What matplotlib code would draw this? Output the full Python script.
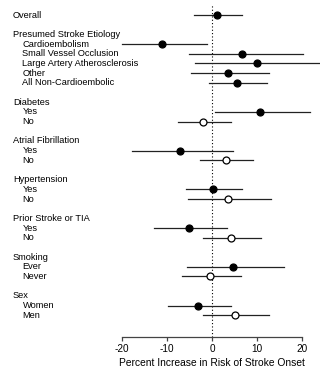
import matplotlib
matplotlib.use("Agg")
import matplotlib.pyplot as plt
import matplotlib.transforms as mtransforms

plt.rcParams['font.family'] = ['Liberation Sans', 'DejaVu Sans']
plt.rcParams['axes.unicode_minus'] = False

# groups: header, item labels, estimates, lower CI, upper CI, filled markers
groups = ["Presumed Stroke Etiology", "Diabetes", "Atrial Fibrillation",
          "Hypertension", "Prior Stroke or TIA", "Smoking", "Sex"]
items = [
    ["Cardioembolism", "Small Vessel Occlusion", "Large Artery Atherosclerosis",
     "Other", "All Non-Cardioembolic"],
    ["Yes", "No"],
    ["Yes", "No"],
    ["Yes", "No"],
    ["Yes", "No"],
    ["Ever", "Never"],
    ["Women", "Men"],
]
est = [[-11.0, 6.7, 10.0, 3.6, 5.5],
       [10.7, -1.9], [-7.1, 3.2], [0.2, 3.5], [-5.1, 4.2], [4.7, -0.4], [-3.0, 5.0]]
lo = [[-20.0, -5.1, -3.8, -4.6, -0.7],
      [0.7, -7.5], [-17.7, -2.6], [-5.7, -5.4], [-12.8, -2.0], [-5.5, -6.6], [-9.8, -2.0]]
hi = [[-1.0, 20.1, 24.0, 12.6, 12.1],
      [21.6, 4.2], [4.7, 9.1], [6.6, 13.0], [3.4, 10.9], [16.0, 6.3], [4.2, 12.5]]
filled = [[True] * 5, [True, False], [True, False], [True, False],
          [True, False], [True, False], [True, False]]

overall_est, overall_lo, overall_hi = 1.1, -4.0, 6.6

fig = plt.figure(figsize=(3.2, 3.78), dpi=100)
ax = fig.add_axes([0.3797, 0.1085, 0.5656, 0.8785])

trans = mtransforms.blended_transform_factory(fig.transFigure, ax.transData)
fs = 6.7
hx = 13 / 320
ix = 22.5 / 320

def draw_row(y, e, l, h, full):
    ax.plot([l, h], [y, y], color='#222222', lw=0.9, clip_on=False, zorder=2)
    ax.plot([e], [y], 'o', ms=5, mfc='black' if full else 'white',
            mec='black', mew=0.9, clip_on=False, zorder=3)

row = 0
ax.text(hx, row, "Overall", transform=trans, fontsize=fs, va='center')
draw_row(row, overall_est, overall_lo, overall_hi, True)
for g, labs, es, ls, hs, fl in zip(groups, items, est, lo, hi, filled):
    row += 2
    ax.text(hx, row, g, transform=trans, fontsize=fs, va='center')
    for lab, e, l, h, f in zip(labs, es, ls, hs, fl):
        row += 1
        ax.text(ix, row, lab, transform=trans, fontsize=fs, va='center')
        draw_row(row, e, l, h, f)

ax.axvline(0, color='black', lw=0.8, ls=(0, (1, 2)), zorder=1)

ax.set_xlim(-20, 20)
ax.set_ylim(33.25, -1.05)
ax.set_xticks([-20, -10, 0, 10, 20])
ax.set_yticks([])
for s in ['top', 'right', 'left']:
    ax.spines[s].set_visible(False)
ax.spines['bottom'].set_color('#444444')
ax.spines['bottom'].set_linewidth(0.9)
ax.tick_params(axis='x', labelsize=7.2, length=3, width=0.9, color='#444444', pad=2)
ax.set_xlabel("Percent Increase in Risk of Stroke Onset", fontsize=7.4, labelpad=3)

fig.savefig("out.png", dpi=100)
